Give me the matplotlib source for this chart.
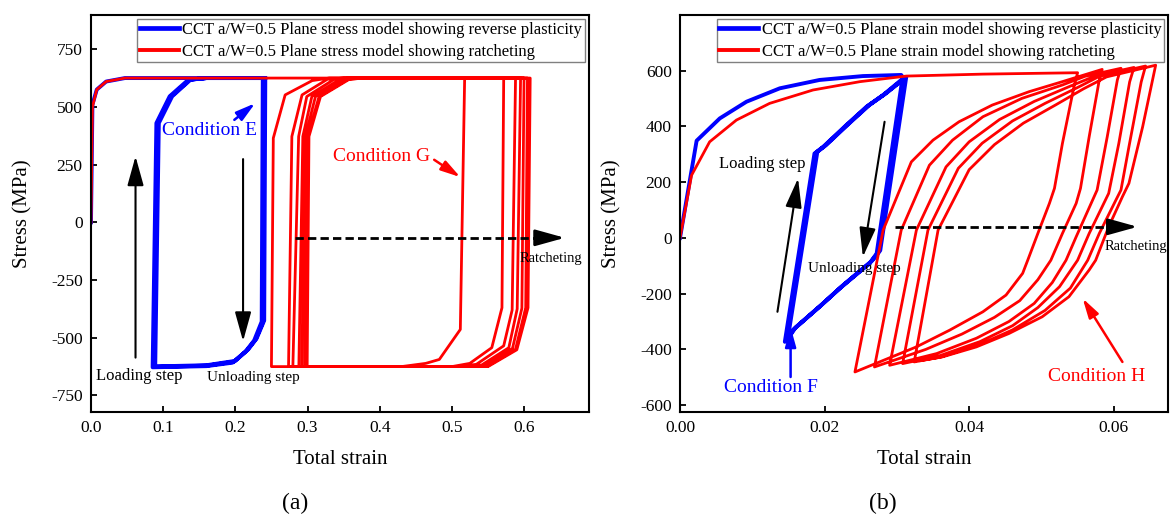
import matplotlib
matplotlib.use("Agg")
import matplotlib.pyplot as plt

plt.rcParams['font.family'] = ['Liberation Serif', 'DejaVu Serif']
plt.rcParams['axes.unicode_minus'] = False

# ---------------- (a) plane stress ----------------
a_blue_strain = [0.0, 0.002, 0.008, 0.021, 0.047, 0.238,
                 0.2365, 0.226, 0.214, 0.196, 0.16, 0.0854,
                 0.0906, 0.109, 0.135, 0.16, 0.240,
                 0.2385, 0.228, 0.216, 0.198, 0.16, 0.0874,
                 0.0926, 0.111, 0.137, 0.16, 0.2415,
                 0.240, 0.2295, 0.218, 0.200, 0.16, 0.089,
                 0.094, 0.1125, 0.138, 0.16, 0.2415]
a_blue_stress = [0, 510, 575, 610, 625, 625,
                 -430, -512, -560, -608, -623, -628,
                 430, 546, 618, 625, 625,
                 -430, -508, -555, -604, -621, -626,
                 430, 546, 618, 625, 625,
                 -425, -503, -550, -600, -619, -624,
                 430, 546, 618, 625, 625]

a_red_strain = [0.0, 0.002, 0.008, 0.021, 0.047, 0.5177,
                0.5117, 0.4826, 0.4638, 0.43, 0.250,
                0.2526, 0.269, 0.3065, 0.33, 0.5718,
                0.5694, 0.5553, 0.5248, 0.50, 0.2737,
                0.2783, 0.2924, 0.3276, 0.35, 0.5882,
                0.5835, 0.5718, 0.534, 0.51, 0.2797,
                0.2877, 0.299, 0.337, 0.36, 0.5952,
                0.5905, 0.5789, 0.5413, 0.52, 0.288,
                0.2935, 0.306, 0.345, 0.37, 0.600,
                0.597, 0.584, 0.545, 0.52, 0.292,
                0.297, 0.311, 0.350, 0.372, 0.6047,
                0.6023, 0.5882, 0.5483, 0.296,
                0.300, 0.316, 0.356, 0.38, 0.6085,
                0.6055, 0.590, 0.550, 0.2995,
                0.302, 0.318, 0.358, 0.38]
a_red_stress = [0, 500, 575, 610, 625, 625,
                -464, -594, -611, -625, -625,
                365, 552, 614, 625, 625,
                -370, -543, -611, -625, -625,
                372, 552, 620, 625, 625,
                -380, -535, -615, -625, -625,
                372, 545, 620, 625, 625,
                -375, -543, -618, -625, -625,
                372, 545, 620, 625, 625,
                -372, -546, -621, -625, -625,
                372, 545, 620, 625, 625,
                -370, -550, -625, -625,
                372, 545, 620, 625, 625,
                -370, -552, -625, -625,
                372, 545, 620, 625]

# ---------------- (b) plane strain ----------------
b_blue_strain = [0.0, 0.0023, 0.0055, 0.0092, 0.0138, 0.0193, 0.0253, 0.0306,
                 0.0308, 0.0272, 0.0262, 0.0221, 0.0193, 0.0156, 0.0145,
                 0.0186, 0.0198, 0.0230, 0.0258, 0.0281, 0.0306,
                 0.0311, 0.0275, 0.0264, 0.0223, 0.0195, 0.0158, 0.0147,
                 0.0188, 0.0200, 0.0232, 0.0260, 0.0283, 0.0309,
                 0.0313, 0.0277, 0.0266, 0.0225, 0.0197, 0.0160, 0.0149,
                 0.0190, 0.0202, 0.0234, 0.0262, 0.0285, 0.0311]
b_blue_stress = [0, 349, 429, 489, 537, 567, 581, 585,
                 578, -56, -92, -181, -247, -331, -373,
                 303, 327, 405, 471, 513, 567,
                 575, -50, -86, -176, -242, -326, -368,
                 306, 330, 408, 474, 516, 570,
                 578, -45, -81, -171, -237, -321, -363,
                 309, 333, 411, 477, 519, 573]

b_red_strain = [0.0, 0.0016, 0.0041, 0.0078, 0.0124, 0.0184, 0.0249, 0.0313, 0.0419, 0.0550,
                0.0545, 0.0529, 0.0518, 0.0511, 0.0495, 0.0481, 0.0474, 0.0451, 0.0419, 0.0373, 0.0327, 0.0276, 0.0242,
                0.0281, 0.0320, 0.0350, 0.0386, 0.0432, 0.0483, 0.0529, 0.0584,
                0.0580, 0.0566, 0.0554, 0.0548, 0.0529, 0.0513, 0.0495, 0.0470, 0.0435, 0.0390, 0.0340, 0.0269,
                0.0306, 0.0345, 0.0377, 0.0419, 0.0473, 0.0529, 0.0560, 0.0610,
                0.0605, 0.0591, 0.0577, 0.0548, 0.0534, 0.0515, 0.0490, 0.0455, 0.0410, 0.0355, 0.0290,
                0.0327, 0.0368, 0.0400, 0.0442, 0.0490, 0.0540, 0.0575, 0.0628,
                0.0622, 0.0607, 0.0593, 0.0566, 0.0550, 0.0525, 0.0495, 0.0460, 0.0415, 0.0360, 0.0308,
                0.0343, 0.0385, 0.0418, 0.0460, 0.0505, 0.0550, 0.0580, 0.0644,
                0.0638, 0.0621, 0.0610, 0.0603, 0.0580, 0.0564, 0.0540, 0.0505, 0.0460, 0.0415, 0.0360, 0.0324,
                0.0357, 0.0400, 0.0435, 0.0475, 0.0520, 0.0558, 0.0590, 0.0658,
                0.0640, 0.0621, 0.0612, 0.0593, 0.0575, 0.0566, 0.0538, 0.0501, 0.0455, 0.0410, 0.0363, 0.0333]
b_red_stress = [0, 225, 345, 423, 483, 531, 561, 581, 588, 593,
                543, 339, 178, 124, 16, -80, -127, -205, -265, -331, -391, -445, -481,
                28, 273, 351, 417, 477, 525, 561, 605,
                567, 363, 178, 124, 16, -80, -150, -225, -285, -345, -400, -463,
                28, 261, 351, 435, 501, 549, 580, 609,
                567, 363, 172, 4, -80, -160, -235, -300, -360, -415, -457,
                28, 255, 345, 425, 490, 545, 582, 612,
                560, 339, 160, 16, -80, -175, -250, -315, -372, -422, -451,
                28, 250, 340, 420, 483, 540, 580, 617,
                560, 327, 172, 136, 16, -80, -180, -260, -330, -382, -428, -445,
                28, 245, 335, 412, 478, 535, 578, 620,
                399, 196, 148, 40, -80, -115, -211, -283, -343, -391, -427, -440]

a_xticks = [0.0, 0.1, 0.2, 0.3, 0.4, 0.5, 0.6]
a_yticks = [-750, -500, -250, 0, 250, 500, 750]
b_xticks = [0.00, 0.02, 0.04, 0.06]
b_yticks = [-600, -400, -200, 0, 200, 400, 600]

BLUE = '#0000FF'
RED = '#FF0000'

fig = plt.figure(figsize=(11.71, 5.19), dpi=100)
ax1 = fig.add_axes([0.0777, 0.206, 0.4253, 0.765])
ax2 = fig.add_axes([0.5807, 0.206, 0.4167, 0.765])


def style_axes(ax, xticks, yticks, xfmt, ylab_x):
    for s in ax.spines.values():
        s.set_linewidth(1.5)
    ax.set_xticks(xticks)
    ax.set_xticklabels([xfmt.format(v) for v in xticks])
    ax.set_yticks(yticks)
    ax.tick_params(direction='in', length=4.5, width=1.3, labelsize=12.5, pad=6)
    ax.set_xlabel('Total strain', fontsize=15)
    ax.set_ylabel('Stress (MPa)', fontsize=15)
    ax.xaxis.set_label_coords(0.5, -0.095)
    ax.yaxis.set_label_coords(ylab_x, 0.5)


def arrow(ax, start, end, color='black', lw=1.5, ms=20):
    ax.annotate('', xy=end, xytext=start,
                arrowprops=dict(arrowstyle='-|>,head_length=0.9,head_width=0.25',
                                color=color, lw=lw,
                                mutation_scale=ms, shrinkA=0, shrinkB=0))


def dashed_arrow(ax, x0, x1, y, head):
    # dashed shaft, solid filled head
    ax.plot([x0, x1 - head], [y, y], color='black', lw=2, ls=(0, (3, 1.5)))
    arrow(ax, (x1 - head, y), (x1, y), lw=2, ms=20)


def make_legend(ax):
    leg = ax.legend(loc='upper right', fontsize=12, frameon=True, fancybox=False,
                    edgecolor='#808080', framealpha=1, borderpad=0.15,
                    labelspacing=0.35, handlelength=2.35, handletextpad=0.2,
                    borderaxespad=0.25)
    leg.get_frame().set_linewidth(1.0)
    leg.get_lines()[0].set_linewidth(3.4)
    leg.get_lines()[1].set_linewidth(2.8)
    return leg


# ---- panel (a)
ax1.plot(a_blue_strain, a_blue_stress, color=BLUE, lw=2.8,
         label='CCT a/W=0.5 Plane stress model showing reverse plasticity')
ax1.plot(a_red_strain, a_red_stress, color=RED, lw=2.0,
         label='CCT a/W=0.5 Plane stress model showing ratcheting')
ax1.set_xlim(0, 0.69)
ax1.set_ylim(-822, 898)
style_axes(ax1, a_xticks, a_yticks, '{:.1f}', -0.118)
make_legend(ax1)

ax1.text(0.0986, 397, 'Condition E', color=BLUE, fontsize=14, va='center')
arrow(ax1, (0.1986, 444), (0.2275, 516), color=BLUE, lw=1.8, ms=13)
ax1.text(0.3347, 285, 'Condition G', color=RED, fontsize=14, va='center')
arrow(ax1, (0.4755, 271), (0.5117, 196), color=RED, lw=1.8, ms=13)
arrow(ax1, (0.0617, -586), (0.0617, 286))
ax1.text(0.0065, -666, 'Loading step', fontsize=12, va='center')
arrow(ax1, (0.2107, 274), (0.2107, -515))
ax1.text(0.1607, -673, 'Unloading step', fontsize=11, va='center')
dashed_arrow(ax1, 0.2828, 0.6565, -67, 0.03)
ax1.text(0.5934, -158, 'Ratcheting', fontsize=10.5, va='center')

# ---- panel (b)
ax2.plot(b_blue_strain, b_blue_stress, color=BLUE, lw=2.8,
         label='CCT a/W=0.5 Plane strain model showing reverse plasticity')
ax2.plot(b_red_strain, b_red_stress, color=RED, lw=2.0,
         label='CCT a/W=0.5 Plane strain model showing ratcheting')
ax2.set_xlim(0, 0.0675)
ax2.set_ylim(-625, 800)
style_axes(ax2, b_xticks, b_yticks, '{:.2f}', -0.119)
make_legend(ax2)

ax2.text(0.0054, 264, 'Loading step', fontsize=12, va='center')
arrow(ax2, (0.01348, -265), (0.01633, 214))
ax2.text(0.0177, -110, 'Unloading step', fontsize=11, va='center')
arrow(ax2, (0.0283, 417), (0.0253, -68))
ax2.text(0.0126, -537, 'Condition F', color=BLUE, fontsize=14, va='center', ha='center')
arrow(ax2, (0.0153, -499), (0.0153, -320), color=BLUE, lw=1.8, ms=13)
ax2.text(0.0577, -499, 'Condition H', color=RED, fontsize=14, va='center', ha='center')
arrow(ax2, (0.0612, -445), (0.0557, -217), color=RED, lw=1.8, ms=13)
dashed_arrow(ax2, 0.0297, 0.0633, 40, 0.0028)
ax2.text(0.0588, -30, 'Ratcheting', fontsize=10.5, va='center')

fig.text(295 / 1171, 1 - 503 / 519, '(a)', fontsize=17, ha='center', va='center')
fig.text(883 / 1171, 1 - 503 / 519, '(b)', fontsize=17, ha='center', va='center')

fig.savefig('out.png', dpi=100)
